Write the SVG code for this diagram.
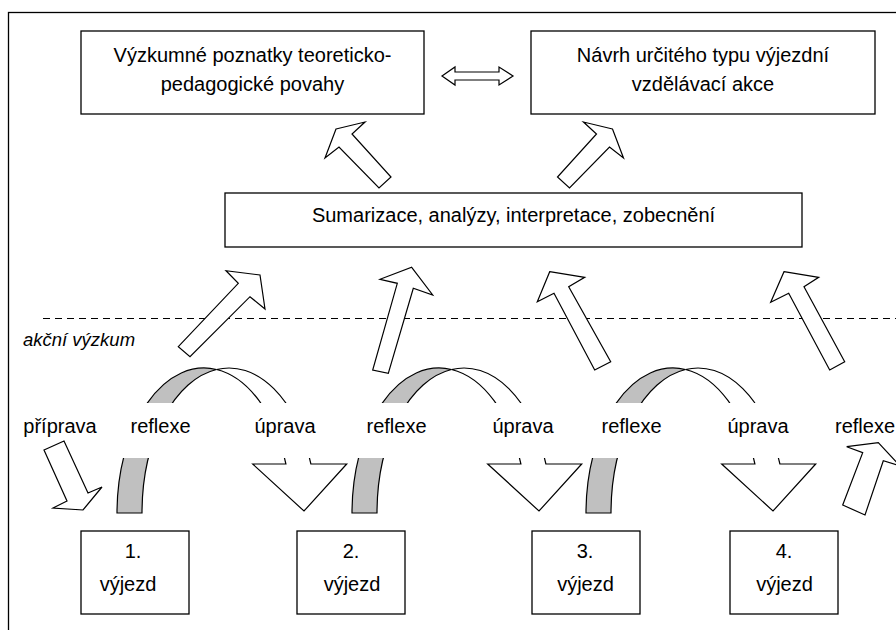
<svg xmlns="http://www.w3.org/2000/svg" width="896" height="630" viewBox="0 0 896 630">
<style>
.box{fill:#fff;stroke:#000;stroke-width:1.3}
.t{font-family:'Liberation Sans',Arial,sans-serif;font-size:20px;fill:#000;text-anchor:middle}
.arr{fill:#fff;stroke:#000;stroke-width:1.2;stroke-linejoin:miter}
.grey{fill:#c0c0c0;stroke:#000;stroke-width:1.2}
.bg{fill:#fff;stroke:none}
</style>
<defs>
<g id="curved">
<path class="grey" d="M117,513 A87,145 0 0 1 216.5,369.5 A87,145 0 0 0 142,513 Z"/>
<path class="arr" d="M216.5,369.5 A87,145 0 0 1 310.9,464 L346.7,464 L304,511 L252.7,464 L285.9,464 A87,145 0 0 0 216.5,369.5 Z"/>
</g>
</defs>
<rect x="8.5" y="12.5" width="900" height="640" fill="none" stroke="#000" stroke-width="1.3"/>
<line x1="43" y1="318.5" x2="896" y2="318.5" stroke="#000" stroke-width="1.2" stroke-dasharray="7 5"/>
<text x="23" y="346" style="font-family:'Liberation Sans',Arial,sans-serif;font-size:18.5px;font-style:italic;fill:#000">akční výzkum</text>

<g id="n-poznatky">
<rect class="box" x="81" y="31" width="343" height="83"/>
<text class="t" x="252.5" y="62">Výzkumné poznatky teoreticko-</text>
<text class="t" x="252.5" y="91">pedagogické povahy</text>
</g>
<g id="n-navrh">
<rect class="box" x="531" y="31" width="344" height="83"/>
<text class="t" x="703" y="62">Návrh určitého typu výjezdní</text>
<text class="t" x="703" y="91">vzdělávací akce</text>
</g>
<g id="n-sumarizace">
<rect class="box" x="225" y="193" width="577" height="54"/>
<text class="t" x="513.5" y="222">Sumarizace, analýzy, interpretace, zobecnění</text>
</g>
<g id="n-vyjezd1">
<rect class="box" x="81" y="531" width="108" height="83"/>
<text class="t" x="133" y="558">1.</text>
<text class="t" x="128" y="591">výjezd</text>
</g>
<g id="n-vyjezd2">
<rect class="box" x="297" y="531" width="108" height="83"/>
<text class="t" x="351" y="558">2.</text>
<text class="t" x="352" y="591">výjezd</text>
</g>
<g id="n-vyjezd3">
<rect class="box" x="532" y="531" width="108" height="83"/>
<text class="t" x="585" y="558">3.</text>
<text class="t" x="585.5" y="591">výjezd</text>
</g>
<g id="n-vyjezd4">
<rect class="box" x="730" y="531" width="108" height="83"/>
<text class="t" x="784" y="558">4.</text>
<text class="t" x="784.5" y="591">výjezd</text>
</g>

<g id="connectors">
<polygon class="arr" points="442,76 455,67 455,72 499,72 499,67 513,76 499,85 499,80 455,80 455,85"/>
<polygon class="arr" points="336,129 365,122 352,134 391,177 379,188 339,147 325,158"/>
<polygon class="arr" points="612.5,129 583.5,122 596.5,134 557.5,177 569.5,188 609.5,147 623.5,158"/>
<polygon class="arr" points="260,275 265,309 250,296.7 190,356.7 178.3,346.7 238.3,283.3 226,270.7"/>
<polygon class="arr" points="411.7,267.3 432.7,295 413.3,288.3 388.3,373.3 372.7,370 397.3,283.3 380,279.3"/>
<polygon class="arr" points="549.7,271.7 584.7,277.3 568.7,286.7 610.7,361.7 594.7,370 554,293.3 537.3,301.7"/>
<polygon class="arr" points="784,271.7 818.7,277.3 804,286.7 844.7,361.7 829.7,370 788.7,293.3 770.7,302.3"/>
<use href="#curved"/>
<use href="#curved" transform="translate(235,0)"/>
<use href="#curved" transform="translate(469,0)"/>
<polygon class="arr" points="44,450 64,441 88,493 102,487 83,510 53,508 67,501"/>
<polygon class="arr" points="842.7,505 862.7,452.7 846.7,446.7 878.3,442.7 900,466 883.3,460.7 865,515"/>
</g>

<g id="labels">
<rect class="bg" x="105" y="403" width="96" height="55"/>
<rect class="bg" x="244" y="403" width="88" height="55"/>
<rect class="bg" x="340" y="403" width="96" height="55"/>
<rect class="bg" x="479" y="403" width="88" height="55"/>
<rect class="bg" x="574" y="403" width="96" height="55"/>
<rect class="bg" x="713" y="403" width="88" height="55"/>
<text class="t" x="60" y="433">příprava</text>
<text class="t" x="160.5" y="433">reflexe</text>
<text class="t" x="285" y="433">úprava</text>
<text class="t" x="396.5" y="433">reflexe</text>
<text class="t" x="523" y="433">úprava</text>
<text class="t" x="631.5" y="433">reflexe</text>
<text class="t" x="758" y="433">úprava</text>
<text class="t" x="865" y="433">reflexe</text>
</g>
</svg>
